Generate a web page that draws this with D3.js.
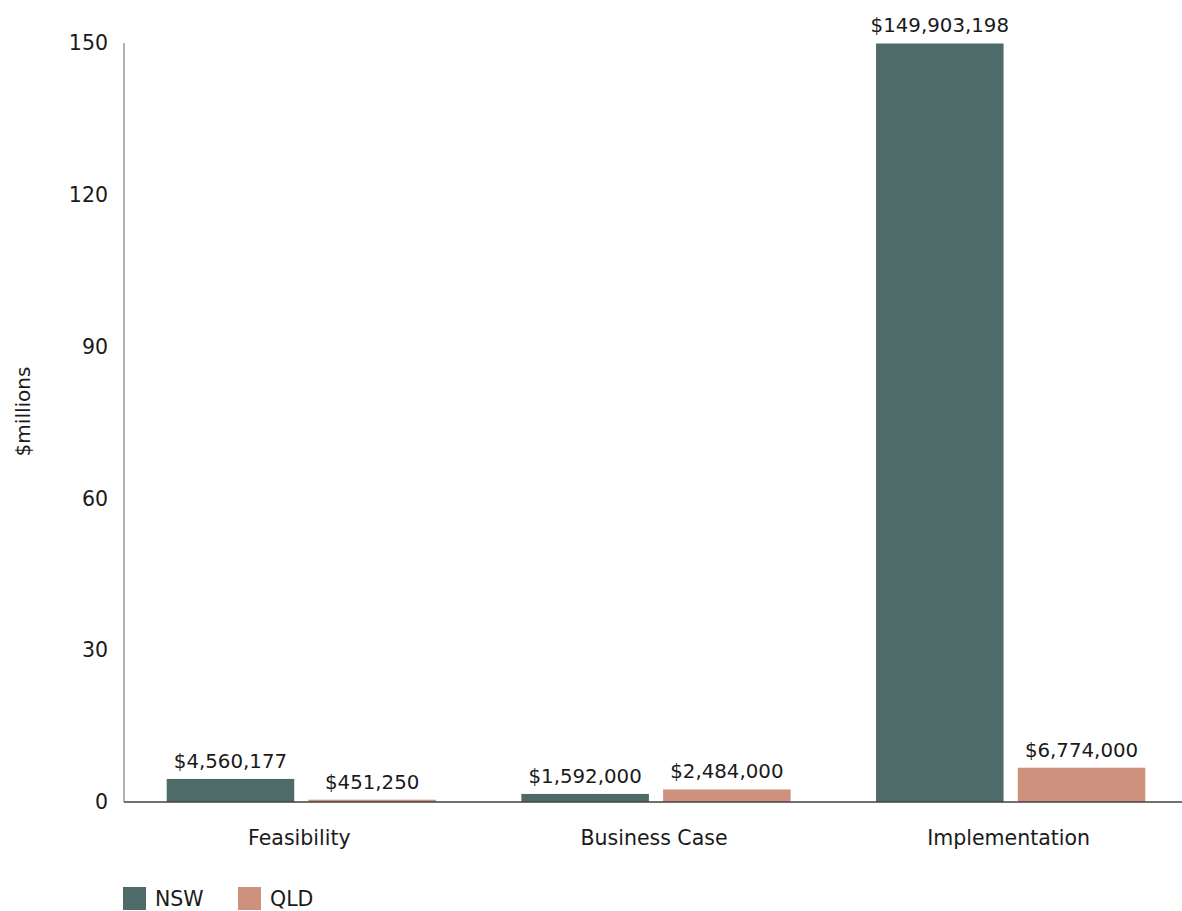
<!DOCTYPE html>
<html>
<head>
<meta charset="utf-8">
<script src="https://cdn.jsdelivr.net/npm/d3@7"></script>
<style>
  body { margin: 0; background: #fff; }
  svg text { font-family: "DejaVu Sans", "Liberation Sans", Arial, sans-serif; fill: #1a1a1a; }
</style>
</head>
<body>
<div id="chart"></div>
<script>
const categories = ['Feasibility', 'Business Case', 'Implementation']
const seriesNames = ['NSW', 'QLD']
const nswValues = [4560177, 1592000, 149903198]
const qldValues = [451250, 2484000, 6774000]
const yTicks = [0, 30, 60, 90, 120, 150]

const colours = { NSW: '#4f6b69', QLD: '#ce917e' }

const width = 1182, height = 911

const svg = d3.select('#chart').append('svg')
  .attr('width', width)
  .attr('height', height)

// plot box
const plotLeft = 124, plotRight = 1188, plotTop = 43, plotBottom = 802

const x = d3.scaleBand().domain(categories).range([plotLeft, plotRight]).paddingInner(0).paddingOuter(0)
const xInner = d3.scaleBand().domain(seriesNames).range([42.7, x.bandwidth() - 42.7]).paddingInner(0.1)
const y = d3.scaleLinear().domain([0, 150]).range([plotBottom, plotTop])

const rows = categories.map((c, i) => ({ cat: c, NSW: nswValues[i], QLD: qldValues[i] }))
const fmt = d3.format('$,')

// y axis line + tick labels
svg.append('line')
  .attr('x1', plotLeft).attr('x2', plotLeft)
  .attr('y1', y(150)).attr('y2', y(0))
  .attr('stroke', '#808080').attr('stroke-width', 1.2)

svg.append('g').selectAll('text')
  .data(yTicks)
  .enter().append('text')
  .attr('x', 108)
  .attr('y', d => y(d))
  .attr('dy', '0.35em')
  .attr('text-anchor', 'end')
  .style('font-size', '20.5px')
  .text(d => d)

svg.append('text')
  .attr('transform', `translate(30,${(plotTop + plotBottom) / 2 - 11}) rotate(-90)`)
  .attr('text-anchor', 'middle')
  .style('font-size', '20px')
  .text('$millions')

// bars
let groups = svg.append('g').selectAll('g')
  .data(rows)
  .enter().append('g')
  .attr('transform', d => `translate(${x(d.cat)},0)`)

groups.selectAll('rect')
  .data(d => seriesNames.map(s => ({ key: s, value: d[s] })))
  .enter().append('rect')
  .attr('x', d => xInner(d.key))
  .attr('width', xInner.bandwidth())
  .attr('y', d => y(d.value / 1e6))
  .attr('height', d => y(0) - y(d.value / 1e6))
  .attr('fill', d => colours[d.key])

groups.selectAll('text')
  .data(d => seriesNames.map(s => ({ key: s, value: d[s] })))
  .enter().append('text')
  .attr('x', d => xInner(d.key) + xInner.bandwidth() / 2)
  .attr('y', d => y(d.value / 1e6) - 11)
  .attr('text-anchor', 'middle')
  .style('font-size', '19.8px')
  .text(d => fmt(d.value))

// x axis line
svg.append('line')
  .attr('x1', plotLeft).attr('x2', width)
  .attr('y1', y(0)).attr('y2', y(0))
  .attr('stroke', '#404040').attr('stroke-width', 1.5)

svg.append('g').selectAll('text')
  .data(categories)
  .enter().append('text')
  .attr('x', d => x(d) + x.bandwidth() / 2 - 2)
  .attr('y', 845)
  .attr('text-anchor', 'middle')
  .style('font-size', '20.5px')
  .text(d => d)

// legend
let legend = svg.append('g').selectAll('g')
  .data(seriesNames)
  .enter().append('g')
  .attr('transform', (d, i) => `translate(${123 + i * 115},887)`)

legend.append('rect')
  .attr('width', 23).attr('height', 23)
  .attr('fill', d => colours[d])

legend.append('text')
  .attr('x', 32).attr('y', 19)
  .style('font-size', '20.5px')
  .text(d => d)
</script>
</body>
</html>
